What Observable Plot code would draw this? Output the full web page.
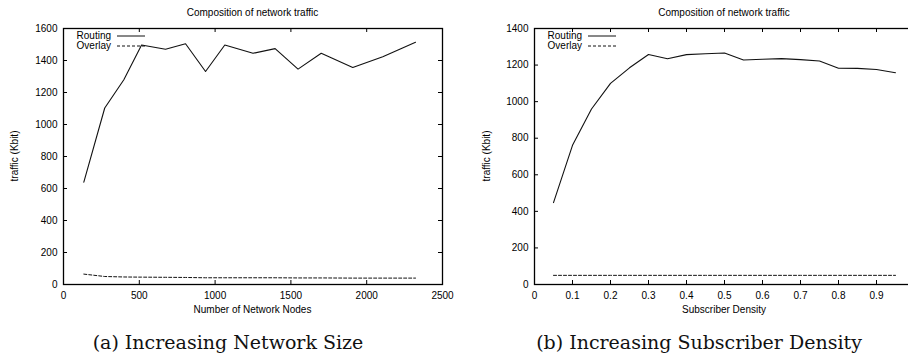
<!DOCTYPE html>
<html>
<head>
<meta charset="utf-8">
<script src="https://cdn.jsdelivr.net/npm/d3@7"></script>
<script src="https://cdn.jsdelivr.net/npm/@observablehq/plot@0.6"></script>
<style>
  html, body { margin: 0; padding: 0; background: #fff; }
  body { width: 908px; height: 354px; overflow: hidden; }
  #root { position: relative; width: 908px; height: 354px; overflow: hidden; font-family: "Liberation Sans", Arial, sans-serif; color: #000; }
  .abs { position: absolute; white-space: nowrap; }
  .sans { font-family: "Liberation Sans", Arial, sans-serif; font-size: 10px; line-height: 12px; }
  .caption { font-family: "DejaVu Serif", serif; font-size: 19px; line-height: 22px; color: #111; }
</style>
</head>
<body>
<div id="root"></div>
<script>
// ---- Data: (a) Increasing Network Size ----
const nodeCounts = [134, 272, 398, 515, 673, 805, 937, 1064, 1250, 1396, 1547, 1700, 1908, 2106, 2322];
const nodesRouting = [640, 1103, 1280, 1497, 1470, 1505, 1331, 1497, 1445, 1474, 1346, 1445, 1356, 1424, 1514];
const nodesOverlay = [65, 50, 47, 46, 45, 44, 42, 42, 42, 42, 41, 41, 40, 40, 40];
const nodesXTicks = [0, 500, 1000, 1500, 2000, 2500];
const nodesYTicks = [0, 200, 400, 600, 800, 1000, 1200, 1400, 1600];

// ---- Data: (b) Increasing Subscriber Density ----
const densities = [0.05, 0.1, 0.15, 0.2, 0.25, 0.3, 0.35, 0.4, 0.45, 0.5, 0.55, 0.6, 0.65, 0.7, 0.75, 0.8, 0.85, 0.9, 0.95];
const densRouting = [448, 761, 960, 1100, 1185, 1258, 1235, 1257, 1262, 1266, 1228, 1232, 1235, 1230, 1222, 1183, 1182, 1176, 1158];
const densOverlay = [50, 50, 50, 50, 50, 50, 50, 50, 50, 50, 50, 50, 50, 50, 50, 50, 50, 50, 50];
const densXTicks = [0, 0.1, 0.2, 0.3, 0.4, 0.5, 0.6, 0.7, 0.8, 0.9];
const densYTicks = [0, 200, 400, 600, 800, 1000, 1200, 1400];

// ---- Text ----
const chartTitle = "Composition of network traffic";
const yLabel = "traffic (Kbit)";
const seriesNames = ["Routing", "Overlay"];

const root = document.getElementById("root");

function addDiv(cls, text, style) {
  const d = document.createElement("div");
  d.className = "abs " + cls;
  d.textContent = text;
  Object.assign(d.style, style);
  root.appendChild(d);
  return d;
}

function makePanel(cfg) {
  const H = 320, mt = 28, mb = 36;
  const plotH = H - mt - mb;
  const plotW = cfg.width - cfg.marginLeft - cfg.marginRight;
  const routing = cfg.xs.map((x, i) => ({x, y: cfg.routing[i]}));
  const overlay = cfg.xs.map((x, i) => ({x, y: cfg.overlay[i]}));
  const chart = Plot.plot({
    width: cfg.width,
    height: H,
    marginLeft: cfg.marginLeft,
    marginRight: cfg.marginRight,
    marginTop: mt,
    marginBottom: mb,
    style: {fontFamily: '"Liberation Sans", Arial, sans-serif', fontSize: "10px", background: "transparent", color: "#000", overflow: "visible"},
    x: {domain: cfg.xDomain},
    y: {domain: cfg.yDomain},
    marks: [
      Plot.tickX(cfg.xTicks, {x: d => d, insetTop: plotH - 4, stroke: "#000", strokeWidth: 1}),
      Plot.tickX(cfg.xTicks, {x: d => d, insetBottom: plotH - 4, stroke: "#000", strokeWidth: 1}),
      Plot.tickY(cfg.yTicks, {y: d => d, insetRight: plotW - 4, stroke: "#000", strokeWidth: 1}),
      Plot.tickY(cfg.yTicks, {y: d => d, insetLeft: plotW - 4, stroke: "#000", strokeWidth: 1}),
      Plot.axisX({ticks: cfg.xTicks, tickSize: 0, tickPadding: 7, tickFormat: d => String(d), label: null, fill: "#000"}),
      Plot.axisY({ticks: cfg.yTicks, tickSize: 0, tickPadding: 6, tickFormat: d => String(d), label: null, fill: "#000"}),
      Plot.line(overlay, {x: "x", y: "y", stroke: "#111", strokeWidth: 1, strokeDasharray: "3,2"}),
      Plot.line(routing, {x: "x", y: "y", stroke: "#111", strokeWidth: 1.1}),
      Plot.frame({stroke: "#000", strokeWidth: 1.3})
    ]
  });
  chart.style.position = "absolute";
  chart.style.left = cfg.left + "px";
  chart.style.top = "0px";
  root.appendChild(chart);

  const frameL = cfg.left + cfg.marginLeft;
  const frameC = frameL + plotW / 2;

  // title
  addDiv("sans", chartTitle, {left: (frameC - 150) + "px", width: "300px", textAlign: "center", top: "7px"});
  // x label
  addDiv("sans", cfg.xLabel, {left: (frameC - 150) + "px", width: "300px", textAlign: "center", top: "304px"});
  // y label (rotated)
  addDiv("sans", yLabel, {left: cfg.yLabelX + "px", top: (mt + plotH / 2) + "px", transform: "translate(-50%, -50%) rotate(-90deg)"});
  // legend
  const rows = [{name: seriesNames[0], dash: null, cy: 36.2}, {name: seriesNames[1], dash: "3,2", cy: 46.7}];
  for (const r of rows) {
    addDiv("sans", r.name, {left: (frameL + 8) + "px", width: "40px", textAlign: "right", top: (r.cy - 6.5) + "px"});
    const svgNS = "http://www.w3.org/2000/svg";
    const s = document.createElementNS(svgNS, "svg");
    s.setAttribute("width", "30");
    s.setAttribute("height", "6");
    s.style.position = "absolute";
    s.style.left = (frameL + 54) + "px";
    s.style.top = (r.cy - 3.5) + "px";
    const ln = document.createElementNS(svgNS, "line");
    ln.setAttribute("x1", "0"); ln.setAttribute("x2", "28");
    ln.setAttribute("y1", "3"); ln.setAttribute("y2", "3");
    ln.setAttribute("stroke", "#111");
    ln.setAttribute("stroke-width", "1");
    if (r.dash) ln.setAttribute("stroke-dasharray", r.dash);
    s.appendChild(ln);
    root.appendChild(s);
  }
  // caption
  addDiv("caption", cfg.caption, {left: (cfg.captionCenter - 200) + "px", width: "400px", textAlign: "center", top: "331px"});
}

makePanel({
  left: 0, width: 454, marginLeft: 63, marginRight: 12,
  xDomain: [0, 2500], yDomain: [0, 1600],
  xTicks: nodesXTicks, yTicks: nodesYTicks,
  xs: nodeCounts, routing: nodesRouting, overlay: nodesOverlay,
  xLabel: "Number of Network Nodes", yLabelX: 15,
  caption: "(a) Increasing Network Size", captionCenter: 228
});

makePanel({
  left: 454, width: 464, marginLeft: 80, marginRight: 4,
  xDomain: [0, 1], yDomain: [0, 1400],
  xTicks: densXTicks, yTicks: densYTicks,
  xs: densities, routing: densRouting, overlay: densOverlay,
  xLabel: "Subscriber Density", yLabelX: 487,
  caption: "(b) Increasing Subscriber Density", captionCenter: 699
});
</script>
</body>
</html>
